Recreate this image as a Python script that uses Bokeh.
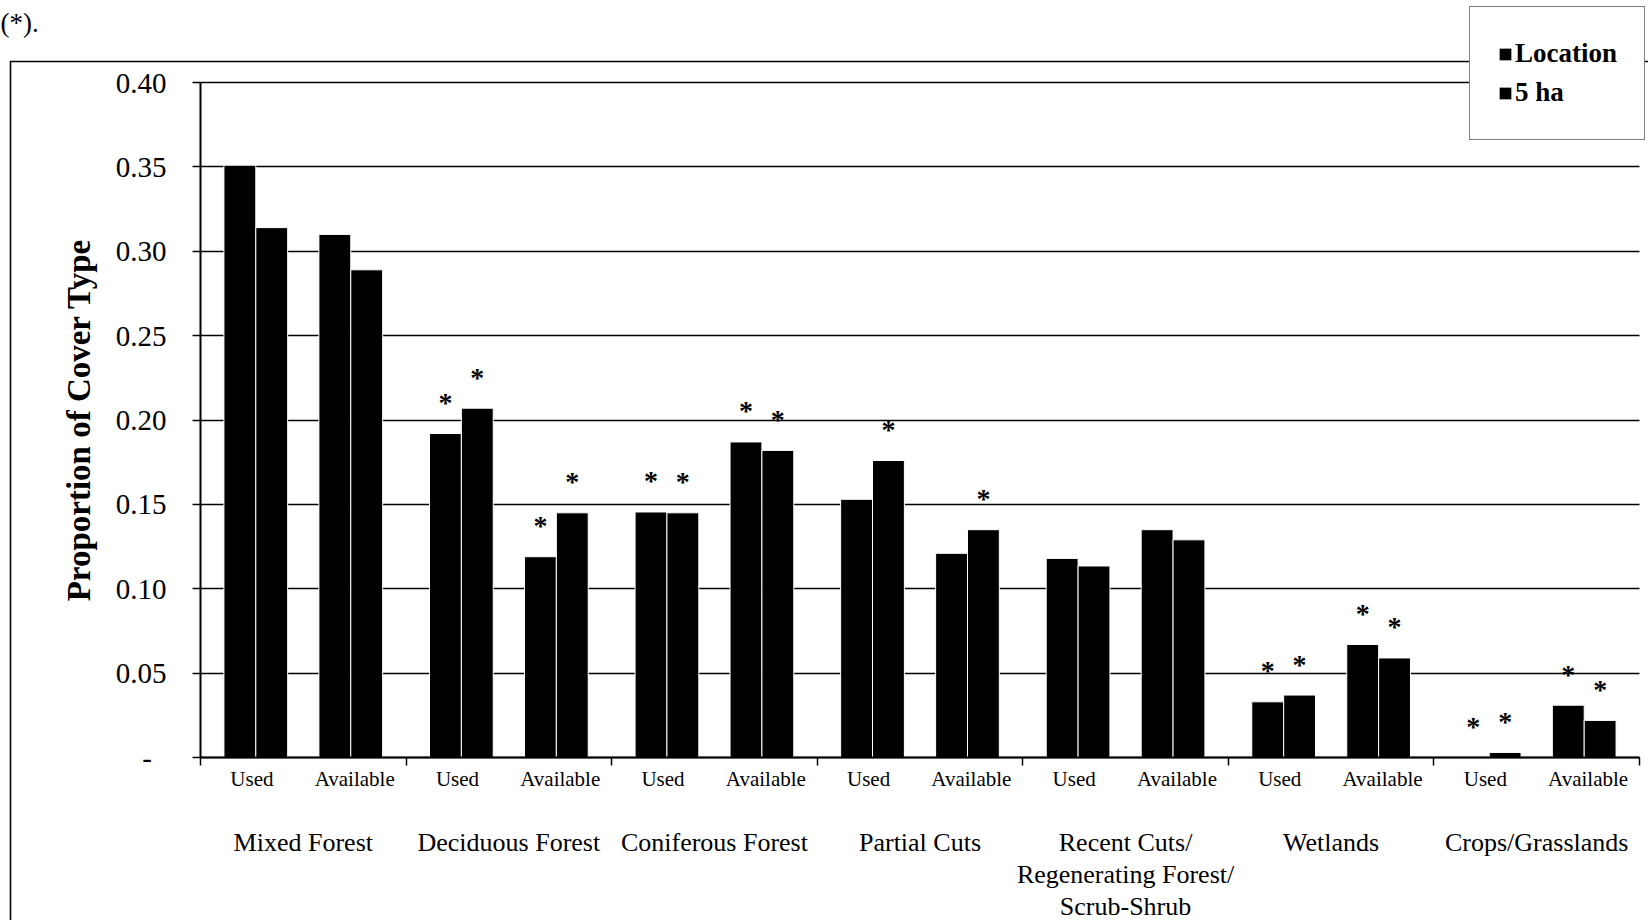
from bokeh.plotting import figure
from bokeh.models import (Range1d, FixedTicker, LinearAxis, NumeralTickFormatter,
                          BoxAnnotation, Label, ColumnDataSource)
from bokeh.core.properties import value
from bokeh.embed import file_html
from bokeh.resources import INLINE

# ---------------- data ----------------
groups = ["Mixed Forest", "Deciduous Forest", "Coniferous Forest", "Partial Cuts",
          "Recent Cuts/\nRegenerating Forest/\nScrub-Shrub", "Wetlands", "Crops/Grasslands"]
subgroups = ["Used", "Available"]
series_names = ["Location", "5 ha"]

# one value per (group, subgroup): Used, Available, Used, Available, ...
location = [0.351, 0.310, 0.192, 0.119, 0.1455, 0.187, 0.153, 0.121,
            0.118, 0.135, 0.033, 0.067, 0.000, 0.031]
five_ha = [0.314, 0.289, 0.207, 0.145, 0.145, 0.182, 0.176, 0.135,
           0.1135, 0.129, 0.037, 0.059, 0.003, 0.022]
# significance markers (*)
sig_location = [0, 0, 1, 1, 1, 1, 0, 0, 0, 0, 1, 1, 1, 1]
sig_five_ha = [0, 0, 1, 1, 1, 1, 1, 1, 0, 0, 1, 1, 1, 1]

y_ticks = [0, 0.05, 0.10, 0.15, 0.20, 0.25, 0.30, 0.35, 0.40]
y_max = 0.40
y_label = "Proportion of Cover Type"
caption_fragment = "(*)."

# ---------------- layout / style ----------------
FONT = "Liberation Serif"
W, H = 1648, 920
PX_LEFT, PX_RIGHT, PX_TOP, PX_ZERO = 200, 1639, 82, 757   # plot area in pixels
BAR_W = 0.31
INWARD = 0.038

n_leaf = len(groups) * len(subgroups)
leaf_centers = [i + 0.5 for i in range(n_leaf)]
leaf_labels = [subgroups[i % 2] for i in range(n_leaf)]
group_centers = [2 * g + 1 for g in range(len(groups))]
group_bounds = [2 * g for g in range(len(groups) + 1)]
shifted = [c + (INWARD if i % 2 == 0 else -INWARD) for i, c in enumerate(leaf_centers)]

x_loc = [c - BAR_W / 2 for c in shifted]
x_ha = [c + BAR_W / 2 for c in shifted]

src = ColumnDataSource(dict(x_loc=x_loc, x_ha=x_ha, loc=location, ha=five_ha))

star_x = [x for x, s in zip(x_loc, sig_location) if s] + [x for x, s in zip(x_ha, sig_five_ha) if s]
star_y = [v for v, s in zip(location, sig_location) if s] + [v for v, s in zip(five_ha, sig_five_ha) if s]
star_src = ColumnDataSource(dict(x=star_x, y=star_y, t=["*"] * len(star_x)))

# the plot frame covers the whole canvas; the data area is placed with fixed axes
xu = (PX_RIGHT - PX_LEFT) / n_leaf
yu = (PX_ZERO - PX_TOP) / y_max
x_range = Range1d(-PX_LEFT / xu, n_leaf + (W - PX_RIGHT) / xu)
y_range = Range1d(-(H - PX_ZERO) / yu, y_max + PX_TOP / yu)

p = figure(width=W, height=H, x_range=x_range, y_range=y_range,
           output_backend="svg", toolbar_location=None, min_border=0,
           outline_line_color=None, background_fill_color="white", border_fill_color="white")

# outer chart-area frame (its right and bottom sides lie outside the picture)
frame_box = BoxAnnotation(left=10, right=2400, top=61, bottom=2400,
                          left_units="canvas", right_units="canvas",
                          top_units="canvas", bottom_units="canvas",
                          fill_color=None, line_color="black", line_alpha=1, line_width=1.6)
p.add_layout(frame_box)

p.add_layout(Label(x=0, y=22, x_units="canvas", y_units="canvas", text=caption_fragment,
                   text_font=FONT, text_font_size="27px", text_baseline="middle",
                   text_align="left", text_color="black"))

p.vbar(x="x_loc", top="loc", width=BAR_W, source=src, fill_color="black",
       line_color="white", line_width=1, legend_label=series_names[0])
p.vbar(x="x_ha", top="ha", width=BAR_W, source=src, fill_color="black",
       line_color="white", line_width=1, legend_label=series_names[1])

p.text(x="x", y="y", text="t", source=star_src, text_font=value(FONT),
       text_font_size="28px", text_font_style="bold", text_align="center",
       text_baseline="middle", y_offset=-31, text_color="black")

# ---------------- axes ----------------
xa = p.xaxis[0]
xa.fixed_location = 0
xa.bounds = (0, n_leaf)
xa.ticker = FixedTicker(ticks=leaf_centers, minor_ticks=group_bounds)
xa.major_label_overrides = {c: lab for c, lab in zip(leaf_centers, leaf_labels)}
xa.major_tick_line_color = None
xa.major_tick_out = 0
xa.major_tick_in = 0
xa.minor_tick_line_color = "black"
xa.minor_tick_line_width = 1.5
xa.minor_tick_out = 8
xa.minor_tick_in = 0
xa.axis_line_color = "black"
xa.axis_line_width = 2
xa.major_label_text_font = FONT
xa.major_label_text_font_size = "21px"
xa.major_label_text_color = "black"
xa.major_label_standoff = 1

xa2 = LinearAxis(ticker=FixedTicker(ticks=group_centers, minor_ticks=[]),
                 fixed_location=0, bounds=(0, n_leaf),
                 major_label_overrides={c: g for c, g in zip(group_centers, groups)},
                 axis_line_color=None, major_tick_line_color=None, minor_tick_line_color=None,
                 major_tick_out=0, major_tick_in=0, major_label_standoff=70,
                 major_label_text_font=FONT, major_label_text_font_size="26px",
                 major_label_text_color="black", major_label_text_line_height=1.12)
p.add_layout(xa2, "below")

ya = p.yaxis[0]
ya.fixed_location = 0
ya.bounds = (0, y_max)
ya.ticker = FixedTicker(ticks=y_ticks, minor_ticks=[])
ya.formatter = NumeralTickFormatter(format="0.00")
ya.major_label_overrides = {0: "-\u00a0\u00a0"}
ya.major_tick_out = 8
ya.major_tick_in = 0
ya.major_tick_line_color = "black"
ya.major_tick_line_width = 1.5
ya.minor_tick_line_color = None
ya.axis_line_color = "black"
ya.axis_line_width = 2
ya.major_label_text_font = FONT
ya.major_label_text_font_size = "29px"
ya.major_label_text_color = "black"
ya.major_label_standoff = 26
ya.axis_label = y_label
ya.axis_label_text_font = FONT
ya.axis_label_text_font_size = "33px"
ya.axis_label_text_font_style = "bold"
ya.axis_label_text_color = "black"
ya.axis_label_standoff = 16

p.xgrid.visible = False
yg = p.ygrid[0]
yg.ticker = FixedTicker(ticks=y_ticks, minor_ticks=[])
yg.bounds = (0, y_max)
yg.cross_bounds = (0, n_leaf)
yg.grid_line_color = "black"
yg.grid_line_width = 1.6
yg.grid_line_alpha = 1

# ---------------- legend ----------------
leg = p.legend[0]
leg.location = (1469, 780)
leg.margin = 0
leg.label_text_font = FONT
leg.label_text_font_size = "27px"
leg.label_text_font_style = "bold"
leg.label_text_color = "black"
leg.glyph_width = 16
leg.glyph_height = 16
leg.label_standoff = 2
leg.label_height = 39
leg.padding = 27
leg.spacing = 0
leg.border_line_color = "black"
leg.border_line_width = 1.5
leg.background_fill_color = "white"
leg.background_fill_alpha = 1

open("out.html", "w").write(file_html(p, INLINE))
